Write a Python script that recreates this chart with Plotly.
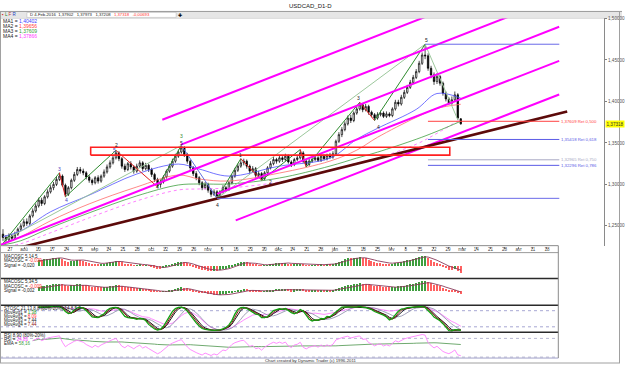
import numpy as np
import pandas as pd
import plotly.graph_objects as go

W, H = 625, 365

# ---------------- data ----------------
opens = [
    1.240, 1.236, 1.233, 1.238, 1.235,
    1.240, 1.246, 1.250, 1.255,
    1.253, 1.262, 1.268, 1.274, 1.281,
    1.277, 1.285, 1.291, 1.296, 1.300, 1.306,
    1.310, 1.299,
    1.288, 1.296, 1.305, 1.312, 1.318,
    1.316, 1.314, 1.309, 1.305, 1.302, 1.308, 1.304,
    1.310, 1.315, 1.321, 1.326, 1.332,
    1.338, 1.331, 1.322, 1.318, 1.325, 1.321,
    1.316, 1.322, 1.326, 1.319, 1.323, 1.318, 1.312, 1.306,
    1.300, 1.303, 1.309, 1.316, 1.322, 1.328, 1.334, 1.339,
    1.344, 1.336, 1.328, 1.320, 1.313, 1.308,
    1.302, 1.296, 1.300, 1.293, 1.288, 1.291,
    1.286, 1.291, 1.296, 1.294, 1.302,
    1.310, 1.317, 1.322, 1.326,
    1.328, 1.322, 1.316, 1.319, 1.311, 1.313,
    1.307, 1.314, 1.320, 1.325, 1.330, 1.328, 1.332, 1.330,
    1.334, 1.327, 1.324, 1.330,
    1.332, 1.338,
    1.328, 1.324, 1.328, 1.330, 1.332, 1.329, 1.334, 1.331, 1.335, 1.333, 1.337,
    1.352, 1.360, 1.366, 1.373, 1.380, 1.377, 1.386, 1.391,
    1.396, 1.390, 1.394, 1.387, 1.384, 1.380,
    1.384, 1.386, 1.382, 1.385,
    1.383, 1.391, 1.399, 1.397, 1.405, 1.411, 1.417, 1.423, 1.429, 1.436, 1.446,
    1.456,
    1.455, 1.440, 1.432, 1.424, 1.430, 1.422, 1.410, 1.403, 1.398, 1.402, 1.408, 1.379,
]
highs = [
    1.246, 1.239, 1.241, 1.240, 1.243,
    1.248, 1.253, 1.258, 1.259,
    1.264, 1.271, 1.277, 1.284, 1.284,
    1.287, 1.294, 1.299, 1.303, 1.309, 1.314,
    1.312, 1.301,
    1.298, 1.307, 1.315, 1.321, 1.321,
    1.319, 1.316, 1.311, 1.307, 1.310, 1.311, 1.312,
    1.318, 1.324, 1.329, 1.335, 1.341,
    1.340, 1.333, 1.325, 1.327, 1.328, 1.323,
    1.325, 1.329, 1.328, 1.326, 1.325, 1.320, 1.314, 1.308,
    1.306, 1.311, 1.318, 1.325, 1.331, 1.337, 1.342, 1.347,
    1.346, 1.338, 1.330, 1.322, 1.316, 1.310,
    1.304, 1.303, 1.302, 1.295, 1.294, 1.293,
    1.293, 1.299, 1.298, 1.304, 1.312,
    1.320, 1.325, 1.331, 1.331,
    1.330, 1.324, 1.322, 1.321, 1.316, 1.315,
    1.316, 1.322, 1.328, 1.333, 1.332, 1.335, 1.334, 1.337,
    1.336, 1.329, 1.332, 1.335,
    1.342, 1.340,
    1.330, 1.331, 1.333, 1.335, 1.334, 1.336, 1.336, 1.337, 1.338, 1.340, 1.354,
    1.363, 1.369, 1.376, 1.383, 1.384, 1.388, 1.394, 1.399,
    1.398, 1.397, 1.396, 1.389, 1.386, 1.387,
    1.389, 1.388, 1.388, 1.387,
    1.393, 1.402, 1.402, 1.408, 1.414, 1.420, 1.426, 1.432, 1.439, 1.449, 1.459,
    1.469,
    1.458, 1.443, 1.435, 1.434, 1.432, 1.424, 1.412, 1.405, 1.406, 1.412, 1.410, 1.380,
]
lows = [
    1.232, 1.229, 1.231, 1.232, 1.233,
    1.238, 1.244, 1.248, 1.250,
    1.251, 1.260, 1.266, 1.272, 1.274,
    1.275, 1.283, 1.289, 1.293, 1.298, 1.304,
    1.297, 1.285,
    1.286, 1.294, 1.303, 1.310, 1.313,
    1.311, 1.306, 1.302, 1.299, 1.300, 1.301, 1.302,
    1.308, 1.313, 1.319, 1.324, 1.330,
    1.328, 1.319, 1.315, 1.316, 1.318, 1.313,
    1.314, 1.320, 1.316, 1.317, 1.315, 1.309, 1.303, 1.297,
    1.296, 1.301, 1.307, 1.314, 1.320, 1.326, 1.332, 1.337,
    1.333, 1.325, 1.317, 1.310, 1.305, 1.299,
    1.293, 1.294, 1.290, 1.285, 1.286, 1.283,
    1.284, 1.289, 1.291, 1.292, 1.300,
    1.308, 1.315, 1.320, 1.323,
    1.319, 1.313, 1.314, 1.308, 1.308, 1.305,
    1.305, 1.312, 1.318, 1.323, 1.325, 1.326, 1.327, 1.328,
    1.325, 1.321, 1.322, 1.328,
    1.330, 1.326,
    1.321, 1.322, 1.326, 1.328, 1.327, 1.327, 1.329, 1.329, 1.331, 1.331, 1.335,
    1.350, 1.357, 1.364, 1.371, 1.374, 1.375, 1.384, 1.389,
    1.387, 1.388, 1.384, 1.381, 1.377, 1.378,
    1.382, 1.380, 1.380, 1.381,
    1.381, 1.389, 1.394, 1.395, 1.403, 1.409, 1.415, 1.421, 1.427, 1.434, 1.444,
    1.451,
    1.437, 1.428, 1.420, 1.421, 1.419, 1.407, 1.400, 1.396, 1.396, 1.400, 1.378, 1.372,
]
closes = [
    1.236, 1.233, 1.238, 1.235, 1.240,
    1.246, 1.250, 1.255, 1.253,
    1.262, 1.268, 1.274, 1.281, 1.277,
    1.285, 1.291, 1.296, 1.300, 1.306, 1.310,
    1.299, 1.288,
    1.296, 1.305, 1.312, 1.318, 1.316,
    1.314, 1.309, 1.305, 1.302, 1.308, 1.304, 1.310,
    1.315, 1.321, 1.326, 1.332, 1.338,
    1.331, 1.322, 1.318, 1.325, 1.321, 1.316,
    1.322, 1.326, 1.319, 1.323, 1.318, 1.312, 1.306, 1.300,
    1.303, 1.309, 1.316, 1.322, 1.328, 1.334, 1.339, 1.344,
    1.336, 1.328, 1.320, 1.313, 1.308, 1.302,
    1.296, 1.300, 1.293, 1.288, 1.291, 1.286,
    1.291, 1.296, 1.294, 1.302, 1.310,
    1.317, 1.322, 1.326, 1.328,
    1.322, 1.316, 1.319, 1.311, 1.313, 1.307,
    1.314, 1.320, 1.325, 1.330, 1.328, 1.332, 1.330, 1.334,
    1.327, 1.324, 1.330, 1.332,
    1.338, 1.328,
    1.324, 1.328, 1.330, 1.332, 1.329, 1.334, 1.331, 1.335, 1.333, 1.337, 1.352,
    1.360, 1.366, 1.373, 1.380, 1.377, 1.386, 1.391, 1.396,
    1.390, 1.394, 1.387, 1.384, 1.380, 1.384,
    1.386, 1.382, 1.385, 1.383,
    1.391, 1.399, 1.397, 1.405, 1.411, 1.417, 1.423, 1.429, 1.436, 1.446, 1.456,
    1.455,
    1.440, 1.432, 1.424, 1.430, 1.422, 1.410, 1.403, 1.398, 1.402, 1.408, 1.380, 1.373,
]

# moving averages read at sample candles
ma_idx = [0, 6, 16, 29, 45, 59, 66, 76, 93, 110, 119, 126, 139, 146, 154]
ma1 = [1.237, 1.244, 1.267, 1.287, 1.3125, 1.3245, 1.3185, 1.310, 1.322, 1.3317, 1.3544, 1.3676, 1.3904, 1.4096, 1.4040]
ma2 = [1.2285, 1.2369, 1.2561, 1.2765, 1.2969, 1.3113, 1.3065, 1.3041, 1.3137, 1.3281, 1.3413, 1.3568, 1.3808, 1.3916, 1.3966]
ma3 = [1.2270, 1.2321, 1.2477, 1.2657, 1.2861, 1.2993, 1.3005, 1.3005, 1.3077, 1.3221, 1.3317, 1.3389, 1.3544, 1.3640, 1.3761]
ma4 = [1.2245, 1.2285, 1.2417, 1.2597, 1.2801, 1.2933, 1.2945, 1.2957, 1.3029, 1.3161, 1.3257, 1.3317, 1.3484, 1.3616, 1.3787]

# wave zig-zag pivots (candle index, price)
zig_idx = [0, 19, 21, 38, 52, 60, 72, 80, 87, 100, 102, 120, 125, 142]
zig_px = [1.229, 1.314, 1.285, 1.341, 1.297, 1.347, 1.283, 1.331, 1.305, 1.342, 1.321, 1.399, 1.377, 1.469]

# drawn channel lines ((x0, p0), (x1, p1)) in candle index / price
magenta_lines = [
    ((53.6, 1.378), (187.1, 1.565)),
    ((59.9, 1.348), (187.1, 1.526)),
    ((-1.0, 1.227), (187.1, 1.490)),
    ((72.0, 1.2885), (187.1, 1.449)),
    ((78.3, 1.2566), (187.1, 1.4084)),
]
brown_line = ((-1.0, 1.2178), (189.8, 1.388))
sage_lines = [((0, 1.232), (60, 1.347)), ((72, 1.283), (142, 1.469)), ((142, 1.469), (153, 1.378))]
zone_box = (29.5, 150.3, 1.33525, 1.34485)

peak_level, low_level = 1.469, 1.2832
fib_levels = [1.37609, 1.35418, 1.32965, 1.32296]
fib_texts = ["1,37609 Ret 0,500", "1,35418 Ret 0,618", "1,32965 Ret 0,750", "1,32296 Ret 0,786"]
fib_colors = ["#FF4040", "#5A5AE6", "#A8A8C4", "#5A5AE6"]

price_ticks = [1.25, 1.30, 1.35, 1.40, 1.45, 1.50]
price_tick_text = ["1,25000", "1,30000", "1,35000", "1,40000", "1,45000", "1,50000"]

date_labels = ["27", "aoû", "10", "17", "24", "31", "sep", "14", "21", "28", "oct", "12", "19", "26",
               "nov", "9", "16", "23", "30", "déc", "14", "21", "28", "jan", "11", "18", "25", "fév",
               "8", "15", "22", "29", "mar", "14", "21", "28", "avr", "11", "18"]

wave_labels = [
    (19.0, 1.3185, "3", "#4040C0"), (21.4, 1.2813, "4", "#4040C0"),
    (37.5, 1.3413, "5", "#4040C0"), (38.2, 1.3470, "2", "#202020"),
    (51.9, 1.2969, "4", "#202020"), (60.0, 1.3580, "3", "#2E8B2E"),
    (60.0, 1.3496, "5", "#202040"), (72.0, 1.2753, "4", "#202020"),
    (80.0, 1.3350, "1", "#202020"), (90.0, 1.3029, "2", "#202020"),
    (119.5, 1.4036, "3", "#202020"), (126.2, 1.3688, "4", "#202020"),
    (142.3, 1.4743, "5", "#202020"),
]

# ---------------- geometry helpers ----------------
PX0, DX = 3.0, 2.987          # pixel of first candle, pixels per candle


def ix(px):
    return (px - PX0) / DX


def py(y):
    return 1 - y / H


n = min(len(opens), len(highs), len(lows), len(closes))
opens, highs, lows, closes = opens[:n], highs[:n], lows[:n], closes[:n]
idx = np.arange(n)
s = pd.Series(closes)
hs = pd.Series(highs)
ls = pd.Series(lows)

# ---------------- indicators ----------------
def ema(x, span):
    return x.ewm(span=span, adjust=False).mean()

osc1 = ema(s, 5) - ema(s, 14)
sig1 = ema(osc1, 5)
osc2 = ema(s, 5) - ema(s, 34)
sig2 = ema(osc2, 5)

k14 = 100 * (s - ls.rolling(14, min_periods=1).min()) / (hs.rolling(14, min_periods=1).max() - ls.rolling(14, min_periods=1).min())
k21 = 100 * (s - ls.rolling(21, min_periods=1).min()) / (hs.rolling(21, min_periods=1).max() - ls.rolling(21, min_periods=1).min())
st_green = k14.rolling(3, min_periods=1).mean()
st_red = st_green.rolling(2, min_periods=1).mean()
st_black = st_green.rolling(3, min_periods=1).mean()
st_gray = st_black.rolling(5, min_periods=1).mean()
st_mag = k21.rolling(8, min_periods=1).mean()

d = s.diff()
ag = d.clip(lower=0).ewm(alpha=1 / 8, adjust=False).mean()
al = (-d.clip(upper=0)).ewm(alpha=1 / 8, adjust=False).mean()
rsi = 100 - 100 / (1 + ag / al)
rsi_ema = rsi.iloc[10:].ewm(span=90, adjust=True).mean()

START = 12

fig = go.Figure()

# moving averages
for vals, col, dash in [(ma4, "#FF60FF", "dot"), (ma3, "#40A040", "solid"),
                        (ma2, "#FF6A6A", "solid"), (ma1, "#5050FF", "solid")]:
    fig.add_trace(go.Scatter(x=ma_idx, y=vals, mode="lines", line=dict(color=col, width=0.8, dash=dash),
                             line_shape="spline", xaxis="x", yaxis="y", hoverinfo="skip"))

# candles
fig.add_trace(go.Candlestick(
    x=idx, open=opens, high=highs, low=lows, close=closes,
    increasing=dict(line=dict(color="#000000", width=0.7), fillcolor="#FFFFFF"),
    decreasing=dict(line=dict(color="#000000", width=0.7), fillcolor="#000000"),
    whiskerwidth=0, xaxis="x", yaxis="y", hoverinfo="skip"))

# sage lines
for (a, b) in sage_lines:
    fig.add_trace(go.Scatter(x=[a[0], b[0]], y=[a[1], b[1]], mode="lines",
                             line=dict(color="#9CC79C", width=1), xaxis="x", yaxis="y", hoverinfo="skip"))

# zig-zag wave lines
for k in range(len(zig_idx) - 1):
    up = zig_px[k + 1] > zig_px[k]
    col = "#2E8B2E" if up else "#E02020"
    if zig_idx[k] == 60:
        col = "#6070E0"
    fig.add_trace(go.Scatter(x=[zig_idx[k], zig_idx[k + 1]], y=[zig_px[k], zig_px[k + 1]], mode="lines",
                             line=dict(color=col, width=1), xaxis="x", yaxis="y", hoverinfo="skip"))

# channel lines
for (a, b) in magenta_lines:
    fig.add_trace(go.Scatter(x=[a[0], b[0]], y=[a[1], b[1]], mode="lines",
                             line=dict(color="#FF00FF", width=2), xaxis="x", yaxis="y", hoverinfo="skip"))
fig.add_trace(go.Scatter(x=[brown_line[0][0], brown_line[1][0]], y=[brown_line[0][1], brown_line[1][1]],
                         mode="lines", line=dict(color="#5C0A0A", width=2.6), xaxis="x", yaxis="y", hoverinfo="skip"))

# zone rectangle
x0, x1, y0, y1 = zone_box
fig.add_trace(go.Scatter(x=[x0, x1, x1, x0, x0], y=[y0, y0, y1, y1, y0], mode="lines",
                         line=dict(color="#FF2020", width=1.6), xaxis="x", yaxis="y", hoverinfo="skip"))

# horizontal levels
xe = ix(562)
fig.add_trace(go.Scatter(x=[142, xe], y=[peak_level, peak_level], mode="lines",
                         line=dict(color="#6A6AE8", width=1), xaxis="x", yaxis="y", hoverinfo="skip"))
fig.add_trace(go.Scatter(x=[72, xe], y=[low_level, low_level], mode="lines",
                         line=dict(color="#6A6AE8", width=1), xaxis="x", yaxis="y", hoverinfo="skip"))
for lv, col in zip(fib_levels, fib_colors):
    fig.add_trace(go.Scatter(x=[ix(430), xe], y=[lv, lv], mode="lines",
                             line=dict(color=col, width=1), xaxis="x", yaxis="y", hoverinfo="skip"))

# ---- panel 1 & 2: MACD oscillators
for osc, sig, xa, ya in [(osc1, sig1, "x2", "y2"), (osc2, sig2, "x3", "y3")]:
    o = osc.iloc[START:]
    rising = o.diff().fillna(0) >= 0
    cols = ["#3E9E3E" if r else "#FF6060" for r in rising]
    fig.add_trace(go.Bar(x=idx[START:], y=o, marker=dict(color=cols, line=dict(width=0)), width=0.42,
                         xaxis=xa, yaxis=ya, hoverinfo="skip"))
    fig.add_trace(go.Scatter(x=idx[START:], y=sig.iloc[START:], mode="lines",
                             line=dict(color="#8A3A5A", width=0.9), xaxis=xa, yaxis=ya, hoverinfo="skip"))

# ---- panel 3: stochastics
xr_p = [ix(0), ix(561)]
for lv in (80, 20):
    fig.add_trace(go.Scatter(x=xr_p, y=[lv, lv], mode="lines", line=dict(color="#9090C8", width=0.8, dash="dot"),
                             xaxis="x4", yaxis="y4", hoverinfo="skip"))
for ser, col, w in [(st_mag, "#FF80FF", 0.9), (st_gray, "#8A8AA8", 0.8), (st_black, "#000000", 0.9),
                    (st_red, "#8B1010", 1.0), (st_green, "#10A010", 1.3)]:
    fig.add_trace(go.Scatter(x=idx[START:], y=ser.iloc[START:], mode="lines", line=dict(color=col, width=w),
                             xaxis="x4", yaxis="y4", hoverinfo="skip"))

# ---- panel 4: RSI
for lv in (80, 20):
    fig.add_trace(go.Scatter(x=xr_p, y=[lv, lv], mode="lines", line=dict(color="#A8A8C8", width=0.8, dash="dot"),
                             xaxis="x5", yaxis="y5", hoverinfo="skip"))
fig.add_trace(go.Scatter(x=idx[10:], y=rsi_ema, mode="lines", line=dict(color="#60A060", width=0.9),
                         xaxis="x5", yaxis="y5", hoverinfo="skip"))
fig.add_trace(go.Scatter(x=idx[10:], y=rsi.iloc[10:], mode="lines", line=dict(color="#FF80FF", width=0.9),
                         xaxis="x5", yaxis="y5", hoverinfo="skip"))

# ---------------- axes ----------------
m1 = float(np.nanmax(np.abs(osc1.iloc[START:]))) * 1.3
m2 = float(np.nanmax(np.abs(osc2.iloc[START:]))) * 1.3
tick_idx = [ix(10 + 14.2 * k) for k in range(len(date_labels))]

p_top = 1.40 + (100 - 16) * 0.001199
p_bot = 1.40 - (245 - 100) * 0.001199
no = dict(showgrid=False, zeroline=False, showticklabels=False)
fig.update_layout(
    width=W, height=H, margin=dict(l=0, r=0, t=0, b=0), autosize=False,
    paper_bgcolor="white", plot_bgcolor="white", showlegend=False, bargap=0,
    font=dict(family="Liberation Sans", size=5, color="#303030"),
    xaxis=dict(domain=[0, 607 / W], range=[ix(0), ix(607)], anchor="y", showgrid=False, zeroline=False,
               showticklabels=False, tickvals=tick_idx, ticks="outside", ticklen=2, tickcolor="#808080",
               rangeslider=dict(visible=False)),
    yaxis=dict(domain=[py(245), py(16)], range=[p_bot, p_top], anchor="x", side="right",
               showgrid=False, zeroline=False, tickvals=price_ticks, ticktext=price_tick_text,
               tickfont=dict(size=4.6, color="#505050"), ticks="outside", ticklen=2, tickcolor="#808080",
               showline=True, linecolor="#8A8A8A", linewidth=1),
    xaxis2=dict(domain=[0, 561 / W], range=xr_p, anchor="y2", side="top", showgrid=False, zeroline=False,
                tickvals=tick_idx, ticktext=date_labels, tickfont=dict(size=4.5, color="#404040"), ticks=""),
    xaxis3=dict(domain=[0, 561 / W], range=xr_p, anchor="y3", **no),
    xaxis4=dict(domain=[0, 561 / W], range=xr_p, anchor="y4", **no),
    xaxis5=dict(domain=[0, 561 / W], range=xr_p, anchor="y5", **no),
    yaxis2=dict(domain=[py(278), py(252)], range=[-m1, m1], anchor="x2", **no),
    yaxis3=dict(domain=[py(305), py(278)], range=[-m2, m2], anchor="x3", **no),
    yaxis4=dict(domain=[py(332), py(305)], range=[0, 100], anchor="x4", **no),
    yaxis5=dict(domain=[py(358), py(332)], range=[17, 100], anchor="x5", **no),
)

# ---------------- frame shapes ----------------
def hline(y, x0, x1, col, w=1):
    return dict(type="line", xref="paper", yref="paper", x0=x0 / W, x1=x1 / W, y0=py(y), y1=py(y),
                line=dict(color=col, width=w))


def vline(x, y0, y1, col, w=1):
    return dict(type="line", xref="paper", yref="paper", x0=x / W, x1=x / W, y0=py(y0), y1=py(y1),
                line=dict(color=col, width=w))


shapes = [
    dict(type="rect", xref="paper", yref="paper", x0=0, x1=1, y0=py(16.5), y1=py(9.5),
         fillcolor="#E6E6E6", line=dict(width=0), layer="below"),
    dict(type="rect", xref="paper", yref="paper", x0=27 / W, x1=177 / W, y0=py(15.5), y1=py(10.5),
         fillcolor="#FFFFFF", line=dict(color="#B0B0B0", width=0.5)),
    hline(9.5, 0, W, "#9A9A9A"),
    hline(16.5, 0, 607, "#D0D0D0", 0.6),
    hline(245, 0, 561, "#8A8A8A"),
    hline(252, 0, 561, "#9A9A9A"),
    hline(278, 0, 561, "#2A2A2A", 1.5),
    hline(305, 0, 561, "#2A2A2A", 1.5),
    hline(332, 0, 561, "#2A2A2A", 1.5),
    hline(358, 0, 561, "#A0A0C8", 1),
    vline(561, 245, 358, "#8A8A8A"),
    vline(0.5, 9.5, 363, "#A0A0A0"),
    vline(622.5, 9.5, 363, "#A0A0A0"),
    hline(363, 0, 623, "#A0A0A0"),
]
fig.update_layout(shapes=shapes)

# ---------------- text ----------------
def ann(x, y, text, size=5, color="#202020", xanchor="left"):
    return dict(x=x / W, y=py(y), xref="paper", yref="paper", text=text, showarrow=False,
                font=dict(size=size, color=color), xanchor=xanchor, yanchor="middle", borderpad=0)


def c(col, t):
    return f"<span style='color:{col}'>{t}</span>"


anns = [
    ann(312, 4.5, "USDCAD_D1-D", 6, "#202020", "center"),
    ann(1, 13, c("#D02020", "▪") + " " + c("#208020", "L") + " " + c("#C03030", "F") + " " + c("#2040C0", "R"), 4.5),
    ann(29, 13, "D 4-Feb-2016  1,37902   1,37973   1,37208   " + c("#FF3030", "1,37318   -0,00693"), 4.2),
    ann(181, 13, "✚", 5, "#000000", "center"),
    ann(2, 19.5, "MA1 = " + c("#4040FF", "1,40402"), 5),
    ann(2, 24.5, "MA2 = " + c("#FF4040", "1,39656"), 5),
    ann(2, 29.5, "MA3 = " + c("#30A030", "1,37609"), 5),
    ann(2, 34.5, "MA4 = " + c("#FF40FF", "1,37866"), 5),
    ann(3, 255.5, "MACOSC 5,14,5", 4.5),
    ann(3, 260, "MACOSC = " + c("#FF3030", "-0,039"), 4.5),
    ann(3, 264.5, "Signal = -0,020", 4.5),
    ann(3, 281.5, "MACOSC 5,34,5", 4.5),
    ann(3, 286, "MACOSC = " + c("#FF3030", "-0,009"), 4.5),
    ann(3, 290.5, "Signal = -0,002", 4.5),
    ann(3, 308.5, "STOSC 21,13,8,8 (80%-20%) 14,8,5,3", 4.5),
    ann(3, 312.5, "MovAvg1 = " + c("#109010", "1,38"), 4.5),
    ann(3, 316.5, "MovAvg2 = " + c("#FF3030", "8,09"), 4.5),
    ann(3, 320.5, "MovAvg3 = 7,44", 4.5),
    ann(3, 324.5, "MovAvg4 = " + c("#8B1010", "7,44"), 4.5),
    ann(3, 335.5, "RSI 8,90 (80%-20%)", 4.5),
    ann(3, 339.5, "RSI = " + c("#FF40FF", "24,83"), 4.5),
    ann(3, 343.5, "EMA = " + c("#40A040", "58,16"), 4.5),
    ann(312, 360.5, "Chart created by Dynamic Trader (c) 1996-2011", 4.3, "#303030", "center"),
]
for lv, txt, col in zip(fib_levels, fib_texts, fib_colors):
    anns.append(dict(x=ix(563), y=lv, xref="x", yref="y", text=txt, showarrow=False, xanchor="left",
                     yanchor="middle", font=dict(size=4.3, color=col), borderpad=0))
anns.append(dict(x=607.5 / W, y=closes[-1], xref="paper", yref="y", text="1,37318", showarrow=False,
                 xanchor="left", yanchor="middle", bgcolor="#FFFF00", font=dict(size=4.6, color="#303030"),
                 borderpad=0.5))
for (xw, yw, t, col) in wave_labels:
    anns.append(dict(x=xw, y=yw, xref="x", yref="y", text=t, showarrow=False, font=dict(size=5, color=col)))
fig.update_layout(annotations=anns)

fig.write_html("out.html", config={"displayModeBar": False})
